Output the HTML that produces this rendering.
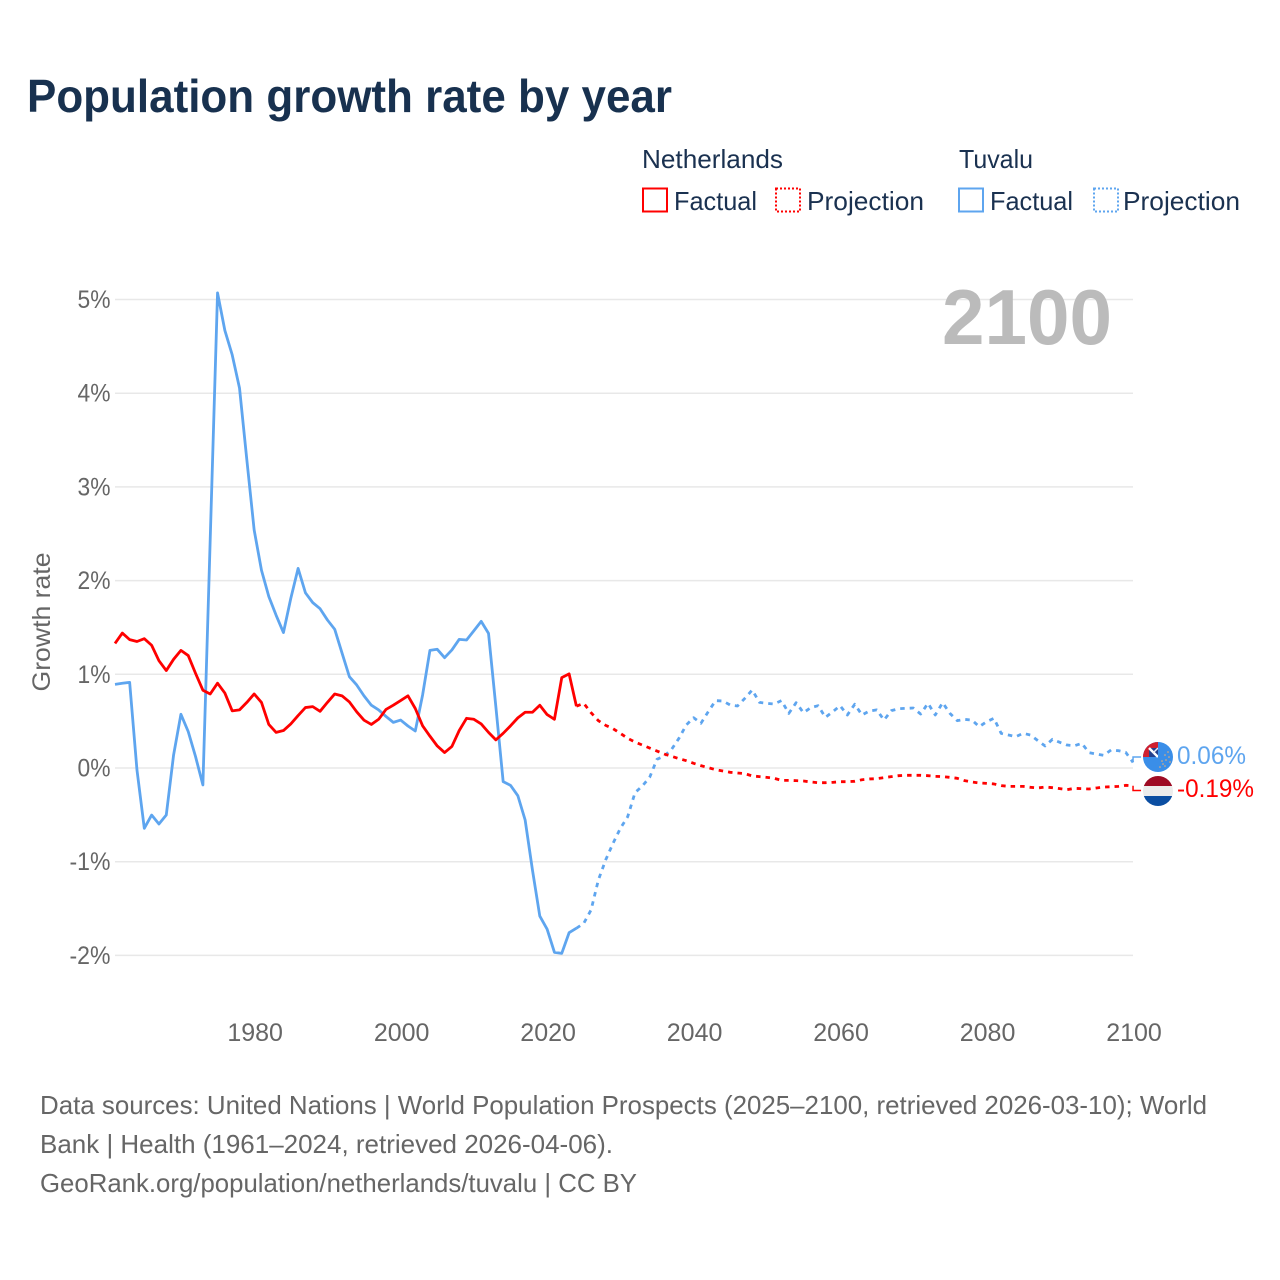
<!DOCTYPE html>
<html lang="en">
<head>
<meta charset="utf-8">
<title>Population growth rate by year</title>
<style>
html,body{margin:0;padding:0;background:#fff;}
svg{display:block;font-family:"Liberation Sans",sans-serif;}
</style>
</head>
<body>
<svg id="chart" xmlns="http://www.w3.org/2000/svg" width="1280" height="1280" viewBox="0 0 1280 1280">
  <rect x="0" y="0" width="1280" height="1280" fill="#fff"/>
  <text x="27" y="112" font-size="46" font-weight="700" fill="#18314f" textLength="645" lengthAdjust="spacingAndGlyphs">Population growth rate by year</text>

  <g font-size="26" fill="#1a3150">
    <text x="642" y="168" textLength="141" lengthAdjust="spacingAndGlyphs">Netherlands</text>
    <text x="959" y="168" textLength="74" lengthAdjust="spacingAndGlyphs">Tuvalu</text>
    <rect x="643" y="188.500" width="24" height="23" fill="none" stroke="#ff0000" stroke-width="2"/>
    <text x="674" y="210" textLength="83" lengthAdjust="spacingAndGlyphs">Factual</text>
    <rect x="776" y="188.500" width="24" height="23" fill="none" stroke="#ff0000" stroke-width="2" stroke-dasharray="2 2"/>
    <text x="807" y="210" textLength="117" lengthAdjust="spacingAndGlyphs">Projection</text>
    <rect x="959" y="188.500" width="24" height="23" fill="none" stroke="#5ea5ef" stroke-width="2"/>
    <text x="990" y="210" textLength="83" lengthAdjust="spacingAndGlyphs">Factual</text>
    <rect x="1094" y="188.500" width="24" height="23" fill="none" stroke="#5ea5ef" stroke-width="2" stroke-dasharray="2 2"/>
    <text x="1123" y="210" textLength="117" lengthAdjust="spacingAndGlyphs">Projection</text>
  </g>

  <text transform="translate(50,622) rotate(-90)" text-anchor="middle" font-size="25" fill="#666" textLength="139" lengthAdjust="spacingAndGlyphs">Growth rate</text>
  <g id="grid"></g>
  <g id="yticks" font-size="25" fill="#666" text-anchor="end"></g>
  <g id="xticks" font-size="25" fill="#666" text-anchor="middle"></g>

  <text x="942" y="344" font-size="78" font-weight="700" fill="#bbbbbb" textLength="170" lengthAdjust="spacingAndGlyphs">2100</text>

  <g id="series"></g>

  <defs>
    <clipPath id="flag-clip-tv"><circle cx="1158" cy="757" r="15"/></clipPath>
    <clipPath id="flag-clip-nl"><circle cx="1158" cy="791" r="15"/></clipPath>
  </defs>
  <g clip-path="url(#flag-clip-tv)">
    <rect x="1143" y="742" width="30" height="30" fill="#3a8ee8"/>
    <rect x="1143" y="742" width="15" height="15" fill="#d0202f"/>
    <rect x="1149" y="748" width="9" height="9" fill="#24408e"/>
    <path d="M1149 748L1158 757" stroke="#fff" stroke-width="2.5"/>
    <path d="M1158 748L1153 753" stroke="#e8e8f4" stroke-width="1.5"/>
    <rect x="1158" y="742" width="1.500" height="15" fill="#3a8ee8"/>
    <g fill="#f0b070">
      <circle cx="1168" cy="752" r=".8"/><circle cx="1169" cy="757" r=".8"/><circle cx="1165" cy="755" r=".8"/>
      <circle cx="1170" cy="762" r=".8"/><circle cx="1166" cy="760" r=".8"/><circle cx="1163" cy="764" r=".8"/>
      <circle cx="1160" cy="767" r=".8"/><circle cx="1165" cy="766" r=".8"/><circle cx="1162" cy="761" r=".8"/>
    </g>
  </g>
  <g clip-path="url(#flag-clip-nl)">
    <rect x="1143" y="776" width="30" height="10" fill="#9e0b24"/>
    <rect x="1143" y="786" width="30" height="10" fill="#ececec"/>
    <rect x="1143" y="796" width="30" height="10" fill="#0b4ea2"/>
  </g>
  <text x="1177" y="764" font-size="25" fill="#5ea5ef" textLength="69" lengthAdjust="spacingAndGlyphs">0.06%</text>
  <text x="1177" y="797" font-size="25" fill="#ff0000" textLength="77" lengthAdjust="spacingAndGlyphs">-0.19%</text>

  <g font-size="26" fill="#666">
    <text x="40" y="1114" textLength="1167" lengthAdjust="spacingAndGlyphs">Data sources: United Nations | World Population Prospects (2025–2100, retrieved 2026-03-10); World</text>
    <text x="40" y="1153" textLength="573" lengthAdjust="spacingAndGlyphs">Bank | Health (1961–2024, retrieved 2026-04-06).</text>
    <text x="40" y="1192" textLength="597" lengthAdjust="spacingAndGlyphs">GeoRank.org/population/netherlands/tuvalu | CC BY</text>
  </g>
</svg>
<script>
const startYear = 1961;
const factualEndYear = 2024;
const xTickYears = [1980, 2000, 2020, 2040, 2060, 2080, 2100];
const yTickValues = [5, 4, 3, 2, 1, 0, -1, -2];
const netherlandsFactual = [1.33,1.44,1.37,1.35,1.38,1.31,1.145,1.04,1.16,1.255,1.2,1.01,0.83,0.79,0.905,0.8,0.61,0.62,0.7,0.79,0.7,0.465,0.38,0.4,0.47,0.56,0.645,0.655,0.605,0.7,0.79,0.77,0.705,0.6,0.51,0.465,0.52,0.625,0.67,0.72,0.77,0.635,0.45,0.34,0.235,0.165,0.23,0.4,0.53,0.52,0.47,0.38,0.3,0.37,0.45,0.535,0.595,0.595,0.67,0.57,0.52,0.965,1.005,0.66];
const netherlandsProjection = [0.69,0.59,0.505,0.455,0.42,0.37,0.317,0.277,0.245,0.213,0.181,0.149,0.125,0.1,0.078,0.05,0.025,0.004,-0.018,-0.032,-0.046,-0.053,-0.06,-0.085,-0.092,-0.1,-0.11,-0.132,-0.132,-0.135,-0.139,-0.149,-0.157,-0.157,-0.153,-0.146,-0.146,-0.142,-0.125,-0.117,-0.114,-0.103,-0.092,-0.082,-0.078,-0.078,-0.078,-0.082,-0.089,-0.092,-0.1,-0.11,-0.135,-0.149,-0.16,-0.164,-0.17,-0.188,-0.196,-0.196,-0.196,-0.206,-0.213,-0.203,-0.21,-0.22,-0.231,-0.217,-0.22,-0.224,-0.213,-0.203,-0.2,-0.196,-0.185,-0.19];
const tuvaluFactual = [0.893,0.904,0.914,-0.021,-0.644,-0.502,-0.598,-0.502,0.139,0.573,0.388,0.121,-0.181,2.44,5.07,4.67,4.41,4.055,3.29,2.54,2.11,1.83,1.63,1.445,1.81,2.13,1.87,1.765,1.7,1.58,1.48,1.227,0.975,0.886,0.77,0.67,0.62,0.55,0.487,0.512,0.448,0.395,0.78,1.255,1.267,1.177,1.26,1.373,1.366,1.465,1.565,1.437,0.655,-0.146,-0.185,-0.295,-0.555,-1.09,-1.58,-1.72,-1.967,-1.978,-1.758,-1.71];
const tuvaluProjection = [-1.658,-1.515,-1.195,-0.98,-0.804,-0.644,-0.52,-0.264,-0.192,-0.1,0.093,0.128,0.199,0.317,0.459,0.537,0.477,0.601,0.719,0.715,0.672,0.662,0.744,0.832,0.7,0.69,0.683,0.719,0.583,0.697,0.59,0.644,0.665,0.541,0.6,0.665,0.566,0.68,0.566,0.608,0.62,0.512,0.612,0.633,0.637,0.64,0.576,0.69,0.566,0.697,0.583,0.505,0.519,0.512,0.441,0.494,0.53,0.37,0.352,0.334,0.37,0.352,0.292,0.235,0.306,0.274,0.245,0.238,0.263,0.164,0.149,0.135,0.192,0.185,0.167,0.06];

const NS = 'http://www.w3.org/2000/svg';
const xOf = year => 115 + (year - 1961) * 7.324;
const yOf = pct => 768 - pct * 93.7;

function make(parent, tag, attrs) {
  const el = document.createElementNS(NS, tag);
  for (const k in attrs) el.setAttribute(k, attrs[k]);
  parent.appendChild(el);
  return el;
}

const gridLayer = document.getElementById('grid');
const yLayer = document.getElementById('yticks');
yTickValues.forEach(function (v) {
  const line = make(gridLayer, 'line', {x1: 115, x2: 1133, y1: yOf(v), y2: yOf(v), stroke: '#e8e8e8', 'stroke-width': 1.5});
  
  
  const text = v + '%';
  const label = make(yLayer, 'text', {x: 110.5, y: yOf(v) + 8.5, textLength: v < 0 ? 41 : 33, lengthAdjust: 'spacingAndGlyphs'});
  
  
  label.textContent = text;
});

const xLayer = document.getElementById('xticks');
xTickYears.forEach(function (year) {
  const label = make(xLayer, 'text', {x: xOf(year) + 1, y: 1041});
  
  
  label.textContent = String(year);
});

function pointsFrom(values, firstYear) {
  return values.map((v, i) => xOf(firstYear + i).toFixed(2) + ',' + yOf(v).toFixed(2)).join(' ');
}

const seriesLayer = document.getElementById('series');
function drawCountry(factual, projection, color) {
  const projLine = make(seriesLayer, 'polyline', {
    points: xOf(factualEndYear).toFixed(2) + ',' + yOf(factual[factual.length - 1]).toFixed(2) + ' ' + pointsFrom(projection, factualEndYear + 1),
    fill: 'none', stroke: color, 'stroke-width': 2.8, 'stroke-dasharray': '4.5 5', 'stroke-linejoin': 'round'
  });
  
  
  const factLine = make(seriesLayer, 'polyline', {
    points: pointsFrom(factual, startYear),
    fill: 'none', stroke: color, 'stroke-width': 2.8, 'stroke-linejoin': 'round'
  });
  
  
}
drawCountry(tuvaluFactual, tuvaluProjection, '#5ea5ef');
drawCountry(netherlandsFactual, netherlandsProjection, '#ff0000');

function drawLeader(lastValue, labelY, color) {
  const x = xOf(2100);
  const leader = make(seriesLayer, 'polyline', {
    points: x + ',' + yOf(lastValue) + ' ' + x + ',' + labelY + ' ' + (x + 8) + ',' + labelY,
    fill: 'none', stroke: color, 'stroke-width': 1.5
  });
  
  
}
drawLeader(tuvaluProjection[tuvaluProjection.length - 1], 757, '#5ea5ef');
drawLeader(netherlandsProjection[netherlandsProjection.length - 1], 790.5, '#ff0000');
</script>
</body>
</html>
